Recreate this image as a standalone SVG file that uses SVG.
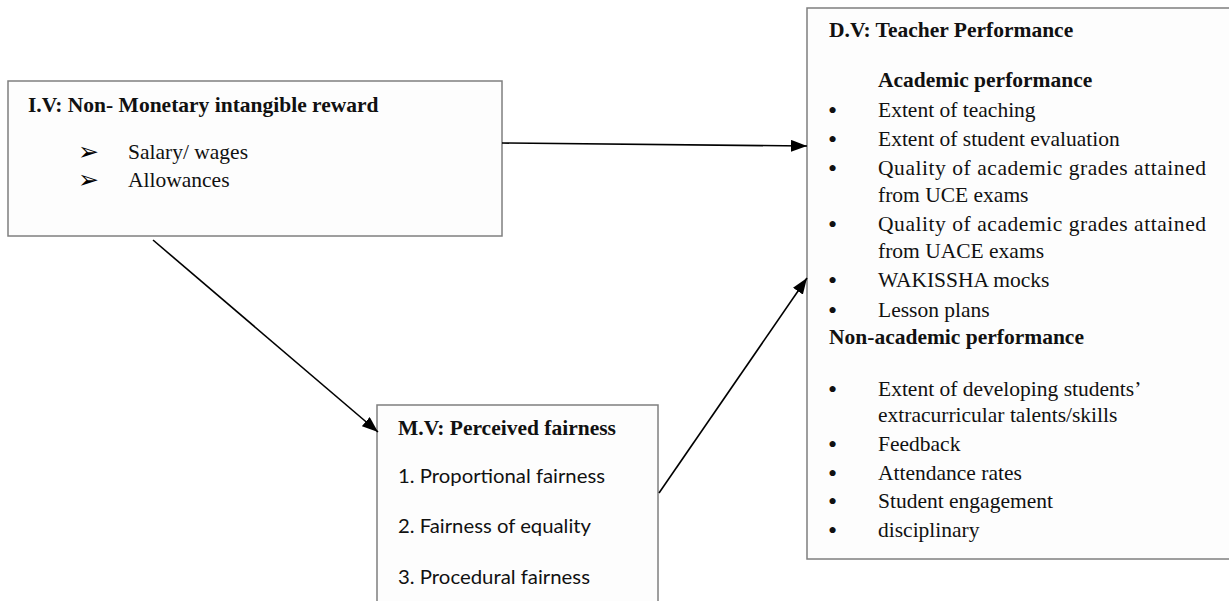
<svg xmlns="http://www.w3.org/2000/svg" width="1229" height="601" viewBox="0 0 1229 601">
<defs>
<style>
.box{fill:#fdfdfd;stroke:#7f7f7f;stroke-width:1.5}
.s{font-family:"Liberation Serif","Times New Roman",serif;font-size:21.5px;fill:#111}
.b{font-weight:bold}
.bl{font-family:"Liberation Serif","Times New Roman",serif;font-size:26px;fill:#111}
.c{font-family:Lato,"Liberation Sans",sans-serif;font-size:20px;fill:#111}
.ar{font-family:"DejaVu Sans",sans-serif;font-size:25px;fill:#000}
.conn{stroke:#000;stroke-width:1.6;fill:none;marker-end:url(#ah)}
</style>
<marker id="ah" viewBox="0 0 16 12" refX="16" refY="6" markerUnits="userSpaceOnUse" markerWidth="16" markerHeight="12" orient="auto">
<path d="M0,0 L16,6 L0,12 Z" fill="#000"/>
</marker>
</defs>
<rect width="1229" height="601" fill="#fff"/>
<g id="iv">
<rect class="box" x="8" y="81" width="494" height="155"/>
<text class="s b" x="28" y="112">I.V: Non- Monetary intangible reward</text>
<text class="ar" x="78" y="160">➢</text>
<text class="s" x="128" y="159">Salary/ wages</text>
<text class="ar" x="78" y="188">➢</text>
<text class="s" x="128" y="187">Allowances</text>
</g>
<g id="mv">
<rect class="box" x="377" y="405" width="281" height="210"/>
<text class="s b" x="398" y="435">M.V: Perceived fairness</text>
<text class="c" x="398" y="483" textLength="207" lengthAdjust="spacingAndGlyphs">1. Proportional fairness</text>
<text class="c" x="398" y="533" textLength="193" lengthAdjust="spacingAndGlyphs">2. Fairness of equality</text>
<text class="c" x="398" y="584" textLength="192" lengthAdjust="spacingAndGlyphs">3. Procedural fairness</text>
</g>
<g id="dv">
<rect class="box" x="807" y="8" width="430" height="551"/>
<text class="s b" x="829" y="37">D.V: Teacher Performance</text>
<text class="s b" x="878" y="87">Academic performance</text>
<g class="bl">
<text x="828" y="119">•</text>
<text x="828" y="148">•</text>
<text x="828" y="177">•</text>
<text x="828" y="233">•</text>
<text x="828" y="289">•</text>
<text x="828" y="319">•</text>
<text x="828" y="398">•</text>
<text x="828" y="453">•</text>
<text x="828" y="482">•</text>
<text x="828" y="510">•</text>
<text x="828" y="539">•</text>
</g>
<g class="s">
<text x="878" y="117">Extent of teaching</text>
<text x="878" y="146">Extent of student evaluation</text>
<text x="878" y="175" textLength="328" lengthAdjust="spacing">Quality of academic grades attained</text>
<text x="878" y="202">from UCE exams</text>
<text x="878" y="231" textLength="328" lengthAdjust="spacing">Quality of academic grades attained</text>
<text x="878" y="258">from UACE exams</text>
<text x="878" y="287">WAKISSHA mocks</text>
<text x="878" y="317">Lesson plans</text>
</g>
<text class="s b" x="829" y="344">Non-academic performance</text>
<g class="s">
<text x="878" y="396">Extent of developing students’</text>
<text x="878" y="422">extracurricular talents/skills</text>
<text x="878" y="451">Feedback</text>
<text x="878" y="480">Attendance rates</text>
<text x="878" y="508">Student engagement</text>
<text x="878" y="537">disciplinary</text>
</g>
</g>
<g id="connectors">
<line class="conn" x1="502" y1="143" x2="807" y2="146"/>
<line class="conn" x1="153" y1="240" x2="378" y2="432"/>
<line class="conn" x1="659" y1="493" x2="807" y2="278"/>
</g>
</svg>
